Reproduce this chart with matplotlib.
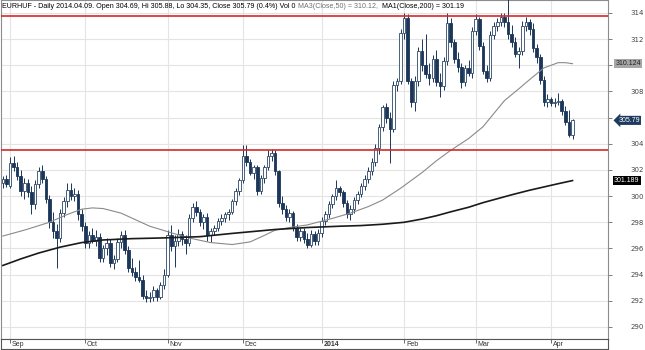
import matplotlib
matplotlib.use("Agg")
import matplotlib.pyplot as plt
import matplotlib.transforms as mtransforms
import numpy as np

# ----------------------------------------------
# EURHUF daily bars, weekdays 2013-08-29 .. 2014-04-09
# ----------------------------------------------
opens = [
    301.0, 301.3,
    # Sep
    300.8, 302.5, 302.2, 301.5, 300.4, 301.0, 300.3, 299.4, 300.9, 301.9, 301.3,
    299.8, 298.0, 297.3, 296.8, 298.7, 299.6, 300.5, 300.0, 300.2, 298.6,
    # Oct
    297.7, 296.4, 297.0, 296.6, 296.9, 295.3, 296.0, 296.4, 294.9, 295.2, 296.5, 297.0,
    295.9, 294.5, 294.2, 293.8, 293.6, 292.4, 292.2, 292.3, 292.8, 292.3, 293.2,
    # Nov
    294.0, 297.0, 296.2, 296.6, 297.1, 296.7, 296.4, 298.3, 299.2, 298.8, 298.0,
    298.4, 297.0, 297.3, 297.6, 298.1, 298.3, 298.6, 298.8, 299.6, 300.4,
    # Dec
    301.2, 303.1, 302.6, 301.8, 302.2, 300.4, 301.4, 302.2, 303.1, 303.3, 301.9,
    299.5, 299.0, 298.4, 298.7, 297.6, 296.9, 297.3, 296.7, 296.3, 297.1, 296.6,
    # Jan
    297.2, 298.1, 298.6, 299.4, 300.0, 300.6, 300.3, 299.5, 298.6, 299.0, 299.7, 300.2,
    300.8, 301.3, 301.9, 302.6, 303.7, 305.3, 306.8, 306.0, 305.1, 308.5, 308.8,
    # Feb
    312.5, 313.6, 308.8, 307.2, 308.8, 311.1, 310.0, 309.3, 309.0, 310.5,
    308.7, 308.4, 310.3, 313.2, 311.8, 310.5, 309.9, 308.7, 309.8, 309.4,
    # Mar
    312.6, 313.5, 311.5, 309.6, 309.0, 312.3, 313.0, 313.3, 313.7, 313.3, 312.4,
    311.8, 310.9, 311.1, 313.0, 313.3, 312.8, 311.3, 310.6, 308.9, 307.2,
    # Apr
    307.4, 307.1, 307.2, 307.3, 306.5, 305.7, 304.69,
]
highs = [
    301.5, 301.6,
    303.0, 303.1, 302.6, 302.0, 301.4, 301.3, 300.8, 301.2, 302.2, 302.4, 301.5,
    300.1, 298.8, 297.9, 299.0, 299.9, 301.0, 301.0, 300.6, 300.5, 299.0,
    298.0, 297.3, 297.6, 297.4, 297.2, 296.3, 296.8, 296.7, 295.5, 296.8, 297.3, 297.4,
    296.2, 295.3, 294.6, 295.1, 294.0, 292.8, 292.7, 293.1, 293.0, 293.4, 294.4,
    297.4, 297.8, 297.0, 297.5, 297.3, 297.0, 298.6, 299.5, 299.6, 299.0, 298.6,
    298.7, 297.6, 297.8, 298.3, 298.6, 298.8, 299.0, 299.8, 300.6, 301.4,
    303.9, 303.9, 302.8, 302.4, 302.4, 301.6, 302.4, 303.5, 303.6, 303.5, 302.0,
    300.0, 299.3, 299.0, 298.9, 297.9, 297.6, 297.6, 297.2, 297.4, 297.3, 297.5,
    298.4, 298.9, 299.6, 300.2, 301.2, 300.8, 300.5, 299.7, 299.3, 299.9, 300.4, 301.0,
    301.6, 302.2, 302.9, 304.0, 305.5, 307.0, 307.1, 306.4, 308.8, 309.0, 312.8,
    314.0, 313.9, 309.0, 309.2, 311.4, 312.0, 312.4, 310.2, 310.8, 311.2,
    309.4, 310.6, 314.0, 313.6, 312.0, 311.0, 310.2, 310.0, 310.4, 312.9,
    313.9, 313.7, 311.8, 310.0, 312.6, 313.3, 313.6, 314.0, 314.0, 315.5, 313.1,
    312.2, 311.4, 313.4, 313.7, 313.5, 313.2, 311.6, 310.9, 309.2, 307.8,
    307.6, 307.5, 307.9, 307.4, 306.9, 306.6, 305.88,
]
lows = [
    300.6, 300.7,
    300.6, 301.9, 301.2, 300.0, 299.8, 299.9, 298.6, 299.0, 300.6, 301.0, 299.5,
    297.6, 296.8, 294.5, 296.5, 298.4, 299.2, 299.7, 299.6, 298.2, 297.3,
    296.0, 296.0, 296.4, 296.2, 295.0, 295.0, 295.5, 294.6, 294.4, 295.0, 296.0, 295.6,
    294.2, 293.9, 293.5, 293.4, 292.1, 291.9, 291.9, 292.0, 292.0, 292.1, 292.9,
    293.8, 295.8, 294.6, 296.2, 296.3, 295.6, 296.2, 298.0, 298.5, 297.7, 297.5,
    296.6, 296.5, 297.0, 297.3, 297.8, 298.0, 298.2, 298.6, 299.3, 300.1,
    301.0, 302.3, 301.6, 301.3, 300.1, 300.2, 301.0, 302.0, 302.7, 301.6, 299.2,
    298.6, 298.1, 298.0, 297.3, 296.6, 296.6, 296.4, 296.0, 296.1, 296.3, 296.3,
    296.9, 297.8, 298.3, 299.1, 299.7, 300.0, 299.2, 298.3, 298.2, 298.7, 299.4, 299.9,
    300.5, 301.0, 301.6, 302.3, 303.2, 305.0, 305.6, 302.5, 304.9, 308.0, 308.6,
    312.0, 308.6, 306.8, 306.5, 308.4, 309.6, 309.0, 308.5, 308.7, 308.4,
    307.6, 308.1, 310.0, 311.4, 310.2, 309.5, 308.3, 308.4, 309.2, 309.0,
    312.3, 311.2, 309.3, 308.7, 308.8, 312.0, 312.6, 313.0, 312.9, 312.0, 311.4,
    310.6, 309.8, 310.8, 312.6, 312.3, 311.0, 310.2, 308.6, 306.9, 306.8,
    306.9, 306.8, 307.0, 306.2, 305.4, 304.5, 304.35,
]
closes = [
    301.3, 300.9,
    302.5, 302.2, 301.5, 300.4, 301.0, 300.3, 299.4, 300.9, 301.9, 301.3, 299.8,
    298.0, 297.3, 296.8, 298.7, 299.6, 300.5, 300.0, 300.2, 298.6, 297.7,
    296.4, 297.0, 296.6, 296.9, 295.3, 296.0, 296.4, 294.9, 295.2, 296.5, 297.0, 295.9,
    294.5, 294.2, 293.8, 293.6, 292.4, 292.2, 292.3, 292.8, 292.3, 293.2, 294.0,
    297.0, 296.2, 296.6, 297.1, 296.7, 296.4, 298.3, 299.2, 298.8, 298.0, 298.4,
    297.0, 297.3, 297.6, 298.1, 298.3, 298.6, 298.8, 299.6, 300.4, 301.2,
    303.1, 302.6, 301.8, 302.2, 300.4, 301.4, 302.2, 303.1, 303.3, 301.9, 299.5,
    299.0, 298.4, 298.7, 297.6, 296.9, 297.3, 296.7, 296.3, 297.1, 296.6, 297.2,
    298.1, 298.6, 299.4, 300.0, 300.6, 300.3, 299.5, 298.6, 299.0, 299.7, 300.2, 300.8,
    301.3, 301.9, 302.6, 303.7, 305.3, 306.8, 306.0, 305.1, 308.5, 308.8, 312.5,
    313.6, 308.8, 307.2, 308.8, 311.1, 310.0, 309.3, 309.0, 310.5, 308.7,
    308.4, 310.3, 313.2, 311.8, 310.5, 309.9, 308.7, 309.8, 309.4, 312.6,
    313.5, 311.5, 309.6, 309.0, 312.3, 313.0, 313.3, 313.7, 313.3, 312.4, 311.8,
    310.9, 311.1, 313.0, 313.3, 312.8, 311.3, 310.6, 308.9, 307.2, 307.4,
    307.1, 307.2, 307.3, 306.5, 305.7, 304.7, 305.79,
]

# moving averages (bar index, value)
ma50_idx = [0, 6, 13, 18, 22, 25, 28, 33, 37, 41, 47, 52, 58, 64, 69, 73,
            76, 80, 85, 92, 97, 102, 106, 111, 117, 121, 125, 130, 134, 137,
            140, 144, 147, 151, 155, 157, 159]
ma50_val = [296.95, 297.4, 298.0, 298.6, 299.0, 299.1, 299.05, 298.7, 298.2,
            297.7, 297.2, 296.8, 296.45, 296.3, 296.5, 297.0, 297.4, 297.6,
            297.8, 298.3, 298.7, 299.2, 299.7, 300.6, 301.8, 302.7, 303.5,
            304.4, 305.3, 306.3, 307.3, 308.2, 308.9, 309.8, 310.2, 310.2,
            310.124]
ma200_idx = [0, 5, 10, 16, 22, 28, 36, 44, 55, 64, 76, 85, 94, 100, 106, 112,
             117, 121, 125, 130, 134, 138, 142, 147, 151, 155, 159]
ma200_val = [294.7, 295.2, 295.65, 296.1, 296.45, 296.65, 296.75, 296.8,
             296.9, 297.15, 297.45, 297.6, 297.7, 297.75, 297.85, 298.0,
             298.25, 298.5, 298.8, 299.15, 299.5, 299.8, 300.1, 300.45, 300.7,
             300.95, 301.189]

levels = [313.8, 303.5]

month_idx = [2, 23, 46, 67, 89, 112, 132, 153]
month_labels = ["Sep", "Oct", "Nov", "Dec", "2014", "Feb", "Mar", "Apr"]

UP_EDGE = "#2c4868"
DOWN = "#1b3658"
GRID = "#e4e4e4"
FRAME = "#8c8c8c"

W, H = 645, 350
fig = plt.figure(figsize=(W / 100, H / 100), dpi=100)
fig.patch.set_facecolor("white")

ax = fig.add_axes([1 / W, 11 / H, 607 / W, 339 / H])
strip = fig.add_axes([1 / W, 1 / H, 607 / W, 10 / H], sharex=ax)

# ----------------------------------------------
# Candles
# ----------------------------------------------
o = np.array(opens)
h = np.array(highs)
l = np.array(lows)
c = np.array(closes)
x = np.arange(len(c))
up = c >= o
body_lo = np.minimum(o, c)
body_h = np.maximum(np.abs(c - o), 0.07)

ax.vlines(x, l, h, color=DOWN, lw=0.7, zorder=3)
ax.bar(x[up], body_h[up], bottom=body_lo[up], width=0.72,
       facecolor="white", edgecolor=UP_EDGE, lw=0.6, zorder=4)
ax.bar(x[~up], body_h[~up], bottom=body_lo[~up], width=0.72,
       facecolor=DOWN, edgecolor=DOWN, lw=0.6, zorder=4)

ax.plot(ma50_idx, ma50_val, color="#8a8a8a", lw=0.8, zorder=5)
ax.plot(ma200_idx, ma200_val, color="#1a1a1a", lw=1.2, zorder=5)

for lv in levels:
    ax.axhline(lv, color="#d32a2a", lw=1.2, zorder=6)

# ----------------------------------------------
# Axes styling
# ----------------------------------------------
ax.set_xlim(-0.51, 168.9)
ax.set_ylim(289.08, 314.99)
yt = list(range(290, 315, 2))
ax.set_yticks(yt)
# the value boxes sit on top of the 310 and 306 labels
ax.set_yticklabels(["" if v in (310, 306) else str(v) for v in yt])
ax.yaxis.tick_right()
ax.tick_params(axis="y", length=3, width=0.6, color="#666666", pad=13,
               labelsize=5, labelcolor="#444444")
ax.set_xticks(month_idx)
ax.tick_params(axis="x", length=0, labelbottom=False)
ax.grid(True, color=GRID, lw=0.8, zorder=0)
for s in ax.spines.values():
    s.set_color(FRAME)
    s.set_linewidth(0.8)

strip.set_yticks([])
strip.tick_params(axis="x", direction="in", length=3, width=0.6,
                  color="#555555", bottom=False, top=True,
                  labelbottom=False, labeltop=False)
for s in strip.spines.values():
    s.set_color("#555555")
    s.set_linewidth(0.8)
for i, lab in zip(month_idx, month_labels):
    strip.text(i + 0.5, 0.45, lab, transform=strip.get_xaxis_transform(),
               ha="left", va="center", fontsize=5, color="#333333",
               fontweight="bold" if lab == "2014" else "normal",
               family="Liberation Sans")

# last values at the right edge
tr = mtransforms.blended_transform_factory(ax.transAxes, ax.transData)
ax.text(1.012, ma50_val[-1], f"{ma50_val[-1]:.3f}", transform=tr,
        ha="left", va="center", fontsize=5, color="#222222",
        family="Liberation Sans", clip_on=False, zorder=10,
        bbox=dict(boxstyle="square,pad=0.15", fc="#a6a6a6", ec="none"))
ax.text(1.017, closes[-1], f"{closes[-1]:.2f}", transform=tr,
        ha="left", va="center", fontsize=5, color="white",
        family="Liberation Sans", clip_on=False, zorder=10,
        bbox=dict(boxstyle="larrow,pad=0.15", fc="#1e3a5f", ec="none"))
ax.text(1.010, ma200_val[-1], f"{ma200_val[-1]:.3f}", transform=tr,
        ha="left", va="center", fontsize=5, color="white",
        family="Liberation Sans", clip_on=False, zorder=10,
        bbox=dict(boxstyle="square,pad=0.15", fc="black", ec="none"))

# ----------------------------------------------
# Header line
# ----------------------------------------------
head = [
    ("EURHUF - Daily 2014.04.09. Open 304.69, Hi 305.88, Lo 304.35, "
     "Close 305.79 (0.4%) Vol 0", "black"),
    ("MA3(Close,50) = 310.12,", "#6f6f6f"),
    ("MA1(Close,200) = 301.19", "black"),
]
fig.canvas.draw()
rend = fig.canvas.get_renderer()
xpos = 2
for txt, col in head:
    t = fig.text(xpos / W, 1 - 6 / H, txt, ha="left", va="center",
                 fontsize=5.15, color=col, family="Liberation Sans", zorder=20)
    xpos = t.get_window_extent(rend).x1 + 3

fig.savefig("out.png", dpi=100)
